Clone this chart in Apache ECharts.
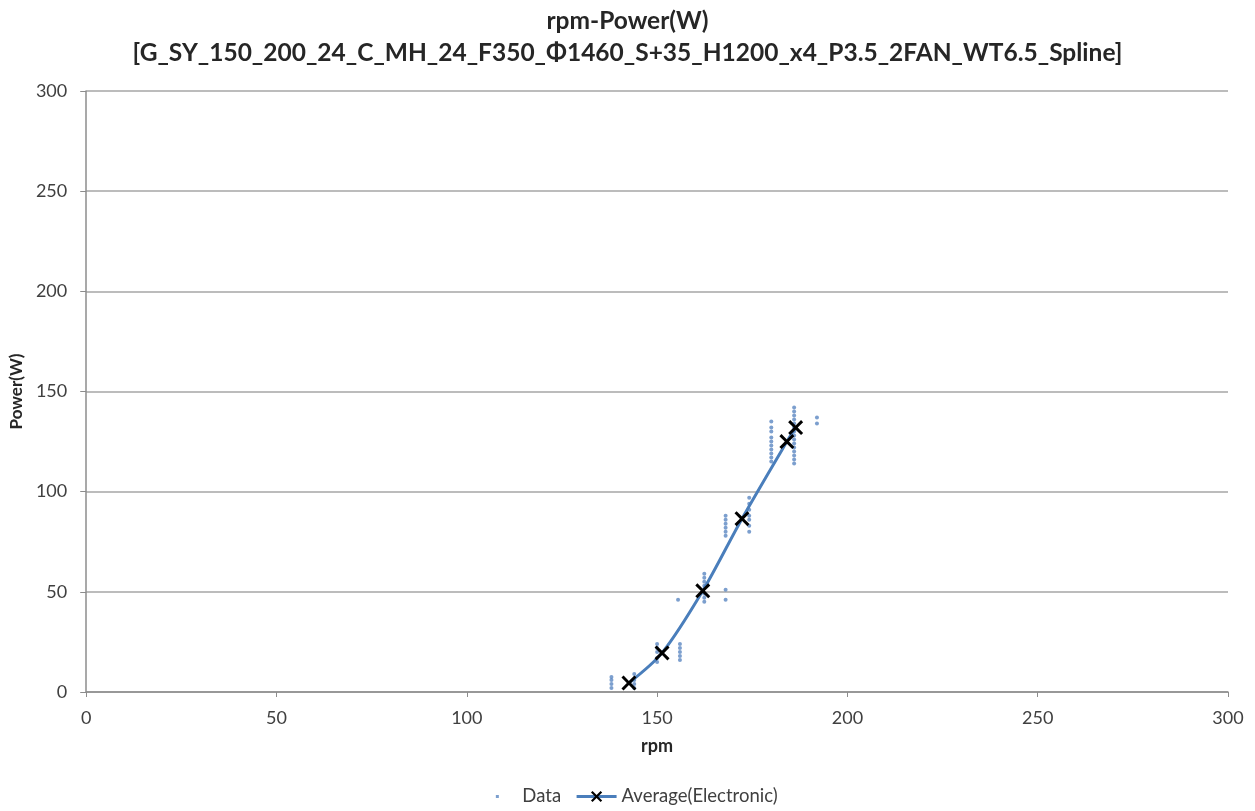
<!DOCTYPE html>
<html lang="en">
<head>
    <meta charset="UTF-8">
    <title>rpm-Power(W)</title>
    <script src="https://cdn.jsdelivr.net/npm/echarts@6/dist/echarts.min.js"></script>
    <style>
        html, body { margin: 0; padding: 0; background: #fff; }
        #chart { width: 1255px; height: 811px; }
    </style>
</head>
<body>
    <div id="chart"></div>
    <script>
        // measured points, grouped by rpm column
        const dataRpm = [
            138, 138, 138, 138,
            144, 144, 144, 144,
            150, 150, 150, 150, 150,
            156, 156, 156, 156, 156, 155.5,
            162.4, 162.4, 162.4, 162.4, 162.4, 162.4, 162.4,
            168, 168,
            168, 168, 168, 168, 168, 168,
            174.2, 174.2, 174.2, 174.2, 174.2, 174.2, 174.2,
            180, 180, 180, 180, 180, 180, 180, 180, 180, 180,
            186, 186, 186, 186, 186, 186, 186, 186, 186, 186, 186, 186, 186, 186, 186,
            192, 192
        ];
        const dataPower = [
            2, 4, 6, 7.5,
            2, 4, 6, 9,
            15, 17, 20, 22, 24,
            16, 18, 20, 22, 24, 46,
            45, 47, 49, 53, 55, 57, 59,
            46, 51,
            78, 80, 82, 84, 86, 88,
            80, 83, 86, 88, 91, 94, 97,
            115, 117, 119, 121, 123, 125, 127, 130, 132, 135,
            114, 116, 118, 120, 122, 124, 126, 128, 130, 132, 134, 136, 138, 140, 142,
            134, 137
        ];

        // averages (electronic)
        const avgRpm = [142.6, 151.3, 162.0, 172.3, 184.1, 186.4];
        const avgPower = [4.5, 19.5, 50.5, 86.5, 125, 132];

        const axisTicks = [0, 50, 100, 150, 200, 250, 300];

        const lineBlue = '#4A7EBB';
        const dotBlue = '#5B87C2';
        const cross = 'path://M0,1.4L1.4,0L5,3.6L8.6,0L10,1.4L6.4,5L10,8.6L8.6,10L5,6.4L1.4,10L0,8.6L3.6,5Z';
        // small dot centred in an invisible 40x14 box (legend icon)
        const dotIcon = 'path://M0,0M40,14M18.5,5.5h3v3h-3z';
        const font = 'Lato, "Open Sans", "Noto Sans", sans-serif';

        const scatterData = dataRpm.map((r, i) => [r, dataPower[i]]);
        const avgData = avgRpm.map((r, i) => [r, avgPower[i]]);

        const chart = echarts.init(document.getElementById('chart'));
        chart.setOption({
            animation: false,
            title: {
                text: 'rpm-Power(W)\n[G_SY_150_200_24_C_MH_24_F350_Φ1460_S+35_H1200_x4_P3.5_2FAN_WT6.5_Spline]',
                left: 'center',
                top: 0,
                textStyle: {
                    fontFamily: font,
                    fontSize: 24.5,
                    fontWeight: 'bold',
                    color: '#262626',
                    lineHeight: 32
                }
            },
            legend: {
                bottom: 0,
                left: 'center',
                itemGap: 14,
                itemWidth: 40,
                itemHeight: 14,
                textStyle: { fontFamily: font, fontSize: 18.5, color: '#404040' },
                lineStyle: { width: 3 },
                data: [
                    { name: 'Data', icon: dotIcon, itemStyle: { color: dotBlue } },
                    { name: 'Average(Electronic)' }
                ]
            },
            grid: { left: 85, right: 27, top: 91, bottom: 119 },
            xAxis: {
                type: 'value',
                min: axisTicks[0],
                max: axisTicks[axisTicks.length - 1],
                interval: 50,
                name: 'rpm',
                nameLocation: 'middle',
                nameGap: 45,
                nameTextStyle: { fontFamily: font, fontSize: 18, fontWeight: 'bold', color: '#262626' },
                axisLine: { lineStyle: { color: '#8C8C8C', width: 1.5 } },
                axisTick: { show: true, length: 5, lineStyle: { color: '#8C8C8C' } },
                axisLabel: { fontFamily: font, fontSize: 18, color: '#404040', margin: 17 },
                splitLine: { show: false }
            },
            yAxis: {
                type: 'value',
                min: axisTicks[0],
                max: axisTicks[axisTicks.length - 1],
                interval: 50,
                name: 'Power(W)',
                nameLocation: 'middle',
                nameGap: 58,
                nameRotate: 90,
                nameTextStyle: { fontFamily: font, fontSize: 17, fontWeight: 'bold', color: '#262626' },
                axisLine: { show: true, lineStyle: { color: '#8C8C8C', width: 1.5 } },
                axisTick: { show: true, length: 6, lineStyle: { color: '#8C8C8C' } },
                axisLabel: { fontFamily: font, fontSize: 18, color: '#404040', margin: 19 },
                splitLine: { lineStyle: { color: '#A6A6A6', width: 1.5 } }
            },
            series: [
                {
                    name: 'Data',
                    type: 'scatter',
                    symbol: 'circle',
                    symbolSize: 4,
                    itemStyle: { color: dotBlue },
                    data: scatterData,
                    z: 2
                },
                {
                    name: 'Average(Electronic)',
                    type: 'line',
                    smooth: 0.3,
                    symbol: cross,
                    symbolSize: 15,
                    showAllSymbol: true,
                    lineStyle: { color: lineBlue, width: 3 },
                    itemStyle: { color: '#000000', borderWidth: 0 },
                    data: avgData,
                    z: 3
                }
            ]
        });
    </script>
</body>
</html>
